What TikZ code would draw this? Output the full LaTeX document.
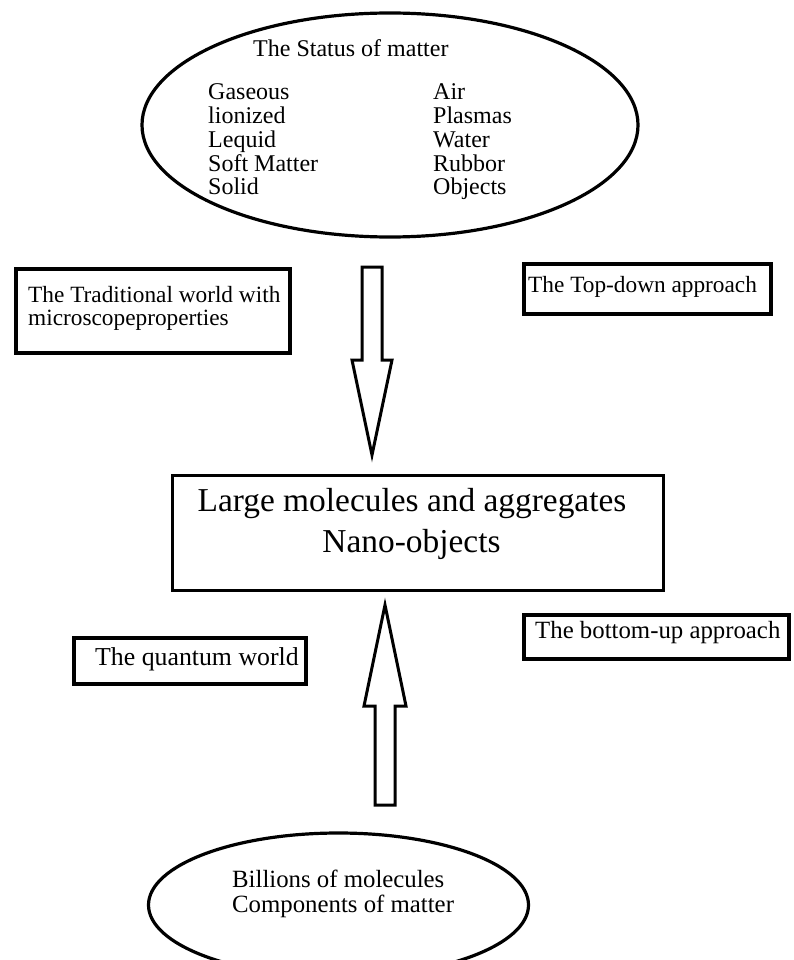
\documentclass[tikz,border=0pt]{standalone}
\usepackage{fontspec}
\setmainfont{Liberation Serif}
\begin{document}
\begin{tikzpicture}[x=1pt,y=-1pt,
  lbl/.style={inner sep=0pt,anchor=base west},
  clbl/.style={inner sep=0pt,anchor=base},
  boxline/.style={draw=black,line width=4pt},
  ellline/.style={draw=black,line width=3.2pt},
  blockarrow/.style={draw=black,line width=3pt,fill=white,line join=miter,miter limit=20},
  fA/.style={font=\fontsize{24}{24}\selectfont},
  fB/.style={font=\fontsize{23.3}{23.3}\selectfont},
  fC/.style={font=\fontsize{33.4}{33.4}\selectfont},
  fD/.style={font=\fontsize{24.8}{24.8}\selectfont},
  fE/.style={font=\fontsize{25.8}{25.8}\selectfont}]
\useasboundingbox[fill=white] (0,0) rectangle (794,960);
\begin{scope}
\clip (0,0) rectangle (794,960);
% top ellipse
\draw[ellline] (390,125) ellipse [x radius=248, y radius=112];
\node[lbl,fA] (title) at (253,57) {The Status of matter};
\node[lbl,fA] (l1) at (208,100) {Gaseous};
\node[lbl,fA] (l2) at (208,123.7) {lionized};
\node[lbl,fA] (l3) at (208,147.4) {Lequid};
\node[lbl,fA] (l4) at (208,171.1) {Soft Matter};
\node[lbl,fA] (l5) at (208,194.8) {Solid};
\node[lbl,fA] (r1) at (433,100) {Air};
\node[lbl,fA] (r2) at (433,123.7) {Plasmas};
\node[lbl,fA] (r3) at (433,147.4) {Water};
\node[lbl,fA] (r4) at (433,171.1) {Rubbor};
\node[lbl,fA] (r5) at (433,194.8) {Objects};
% traditional box
\draw[boxline] (16,269) rectangle (290,353);
\node[lbl,fB] (trad1) at (28,302) {The Traditional world with};
\node[lbl,fB] (trad2) at (28,325) {microscopeproperties};
% top-down box
\draw[boxline] (524,264) rectangle (771,314);
\node[lbl,fB] (topdown) at (528,292) {The Top-down approach};
% down arrow
\draw[blockarrow] (362,267) -- (382,267) -- (382,360) -- (392,360) -- (372,455) -- (352,360) -- (362,360) -- cycle;
% center box
\draw[boxline,line width=3.5pt] (172.5,475.5) rectangle (663.5,590.5);
\node[clbl,fC] (large) at (412,511) {Large molecules and aggregates};
\node[clbl,fC] (nano) at (411.5,552) {Nano-objects};
% up arrow
\draw[blockarrow] (375,805) -- (395,805) -- (395,706) -- (406,706) -- (385,605) -- (364,706) -- (375,706) -- cycle;
% quantum box
\draw[boxline] (74,638) rectangle (306,684);
\node[lbl,fE] (quant) at (95,665) {The quantum world};
% bottom-up box
\draw[boxline] (524,615) rectangle (789,659);
\node[lbl,fD] (botup) at (535,638) {The bottom-up approach};
% bottom ellipse
\draw[ellline] (338.5,905) ellipse [x radius=190, y radius=72];
\node[lbl,fD] (bil) at (232,887) {Billions of molecules};
\node[lbl,fD] (comp) at (232,912) {Components of matter};
\end{scope}
\end{tikzpicture}
\end{document}
